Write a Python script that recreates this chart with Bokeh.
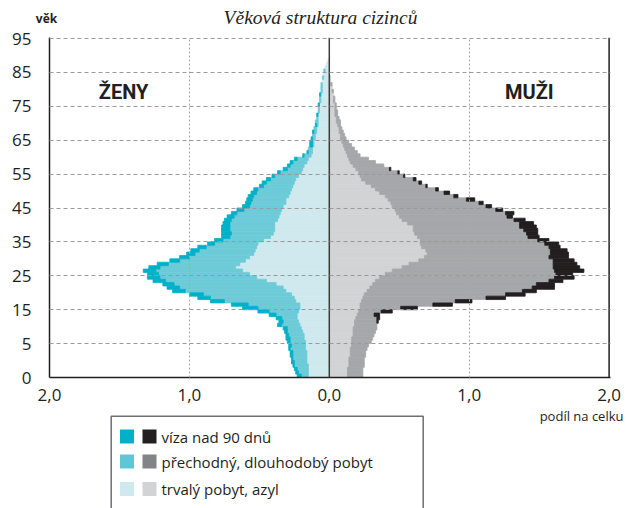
import numpy as np
from bokeh.plotting import figure
from bokeh.models import Range1d, FixedTicker, Span, ColumnDataSource
from bokeh.layouts import column
from bokeh.embed import file_html
from bokeh.resources import INLINE
from bokeh.core.properties import value

# single-year age rows (bottom row = 0)
ages = list(range(94))

# women: share of total (per cent points), by residence type
f_visa = [
    0.03, 0.02, 0.02, 0.01, 0.02, 0.01, 0.02, 0.02, 0.01, 0.02,
    0.02, 0.03, 0.02, 0.02, 0.03, 0.03, 0.03, 0.04, 0.05, 0.08,
    0.11, 0.12, 0.10, 0.09, 0.10, 0.09, 0.09, 0.08, 0.09, 0.09,
    0.08, 0.09, 0.08, 0.08, 0.07, 0.07, 0.06, 0.06, 0.06, 0.05,
    0.06, 0.06, 0.07, 0.06, 0.06, 0.05, 0.05, 0.05, 0.04, 0.05,
    0.05, 0.04, 0.04, 0.04, 0.04, 0.03, 0.03, 0.03, 0.03, 0.02,
    0.02, 0.03, 0.02, 0.02, 0.02, 0.01, 0.01, 0.00, 0.02, 0.02,
    0.01, 0.00, 0.01, 0.00, 0.01, 0.00, 0.00, 0.01, 0.00, 0.00,
    0.01, 0.00, 0.00, 0.01, 0.00, 0.00, 0.00, 0.00, 0.00, 0.00,
    0.00, 0.00, 0.00, 0.00]
f_temp = [
    0.05, 0.07, 0.08, 0.10, 0.09, 0.10, 0.10, 0.10, 0.11, 0.10,
    0.11, 0.10, 0.11, 0.11, 0.10, 0.13, 0.11, 0.11, 0.15, 0.21,
    0.30, 0.37, 0.51, 0.60, 0.63, 0.72, 0.74, 0.73, 0.72, 0.69,
    0.65, 0.62, 0.54, 0.51, 0.47, 0.43, 0.42, 0.40, 0.36, 0.31,
    0.29, 0.29, 0.30, 0.32, 0.32, 0.32, 0.33, 0.32, 0.31, 0.27,
    0.24, 0.25, 0.24, 0.25, 0.24, 0.24, 0.21, 0.20, 0.18, 0.17,
    0.15, 0.11, 0.10, 0.10, 0.08, 0.05, 0.03, 0.03, 0.01, 0.01,
    0.02, 0.02, 0.02, 0.02, 0.01, 0.02, 0.01, 0.00, 0.01, 0.01,
    0.00, 0.01, 0.01, 0.00, 0.01, 0.01, 0.01, 0.00, 0.01, 0.00,
    0.01, 0.00, 0.00, 0.00]
f_perm = [
    0.15, 0.15, 0.15, 0.15, 0.16, 0.16, 0.16, 0.16, 0.17, 0.17,
    0.17, 0.18, 0.18, 0.19, 0.20, 0.21, 0.22, 0.23, 0.23, 0.22,
    0.21, 0.21, 0.24, 0.25, 0.27, 0.31, 0.33, 0.38, 0.45, 0.52,
    0.57, 0.62, 0.67, 0.64, 0.60, 0.57, 0.54, 0.53, 0.52, 0.51,
    0.47, 0.42, 0.40, 0.39, 0.39, 0.39, 0.37, 0.36, 0.35, 0.34,
    0.33, 0.31, 0.31, 0.29, 0.28, 0.27, 0.26, 0.25, 0.24, 0.22,
    0.20, 0.19, 0.18, 0.16, 0.15, 0.13, 0.12, 0.12, 0.11, 0.11,
    0.10, 0.10, 0.09, 0.09, 0.08, 0.08, 0.08, 0.08, 0.07, 0.07,
    0.07, 0.06, 0.06, 0.06, 0.05, 0.05, 0.05, 0.05, 0.04, 0.04,
    0.03, 0.03, 0.02, 0.01]

# men
m_visa = [
    0.00, 0.00, 0.00, 0.00, 0.00, 0.00, 0.00, 0.00, 0.00, 0.00,
    0.00, 0.00, 0.00, 0.00, 0.00, 0.00, 0.01, 0.02, 0.04, 0.08,
    0.12, 0.14, 0.12, 0.14, 0.14, 0.10, 0.16, 0.13, 0.10, 0.14,
    0.12, 0.21, 0.19, 0.17, 0.15, 0.14, 0.13, 0.12, 0.08, 0.10,
    0.08, 0.08, 0.08, 0.10, 0.12, 0.10, 0.08, 0.04, 0.06, 0.05,
    0.04, 0.03, 0.06, 0.03, 0.04, 0.02, 0.01, 0.02, 0.02, 0.01,
    0.01, 0.01, 0.00, 0.00, 0.00, 0.00, 0.00, 0.00, 0.00, 0.00,
    0.00, 0.00, 0.00, 0.00, 0.00, 0.00, 0.00, 0.00, 0.00, 0.00,
    0.00, 0.00, 0.00, 0.00, 0.00, 0.00, 0.00, 0.00, 0.00, 0.00,
    0.00, 0.00, 0.00, 0.00]
m_temp = [
    0.11, 0.11, 0.11, 0.11, 0.11, 0.11, 0.11, 0.11, 0.12, 0.12,
    0.14, 0.15, 0.15, 0.16, 0.17, 0.16, 0.16, 0.15, 0.12, 0.16,
    0.29, 0.52, 0.67, 0.88, 1.01, 1.11, 1.16, 1.17, 1.24, 1.25,
    1.22, 1.16, 1.08, 1.03, 0.96, 0.89, 0.88, 0.89, 0.91, 0.89,
    0.84, 0.79, 0.80, 0.79, 0.76, 0.80, 0.80, 0.77, 0.78, 0.72,
    0.67, 0.63, 0.56, 0.49, 0.46, 0.43, 0.39, 0.38, 0.37, 0.31,
    0.28, 0.24, 0.22, 0.18, 0.14, 0.09, 0.08, 0.07, 0.06, 0.05,
    0.04, 0.03, 0.03, 0.02, 0.02, 0.03, 0.02, 0.02, 0.02, 0.01,
    0.01, 0.01, 0.01, 0.00, 0.01, 0.00, 0.01, 0.00, 0.00, 0.00,
    0.00, 0.00, 0.00, 0.00]
m_perm = [
    0.13, 0.13, 0.13, 0.14, 0.14, 0.14, 0.15, 0.15, 0.15, 0.16,
    0.16, 0.16, 0.17, 0.17, 0.17, 0.18, 0.18, 0.19, 0.20, 0.21,
    0.22, 0.22, 0.23, 0.24, 0.25, 0.27, 0.29, 0.31, 0.33, 0.36,
    0.40, 0.45, 0.52, 0.57, 0.64, 0.68, 0.70, 0.69, 0.66, 0.65,
    0.65, 0.63, 0.61, 0.60, 0.60, 0.56, 0.52, 0.50, 0.48, 0.47,
    0.45, 0.44, 0.42, 0.40, 0.36, 0.33, 0.30, 0.26, 0.23, 0.22,
    0.21, 0.19, 0.17, 0.15, 0.14, 0.13, 0.12, 0.11, 0.10, 0.09,
    0.08, 0.08, 0.07, 0.07, 0.06, 0.05, 0.05, 0.04, 0.04, 0.04,
    0.04, 0.03, 0.03, 0.03, 0.02, 0.02, 0.01, 0.01, 0.01, 0.00,
    0.00, 0.00, 0.00, 0.00]

# axis tick labels
y_ticks = [0, 10, 20, 30, 40, 50, 60, 70, 80, 90, 100]
y_tick_labels = ["0", "5", "15", "25", "35", "45", "55", "65", "75", "85", "95"]
x_ticks = [-2, -1, 0, 1, 2]
x_tick_labels = ["2,0", "1,0", "0,0", "1,0", "2,0"]

legend_labels = ["víza nad 90 dnů", "přechodný, dlouhodobý pobyt", "trvalý pobyt, azyl"]

F_COL = {"visa": "#00b1c9", "temp": "#6dcbd8", "perm": "#cfe9ee"}
M_COL = {"visa": "#231f20", "temp": "#a6a7aa", "perm": "#d2d3d5"}
LEG_F = ["#00b1c9", "#5ec7d5", "#cfe9ee"]
LEG_M = ["#231f20", "#838487", "#d2d3d5"]
INK = "#231f20"
FONT = "Open Sans"
W = 626


def strip(height):
    f = figure(width=W, height=height, x_range=Range1d(0, W), y_range=Range1d(height, 0),
               output_backend="svg", toolbar_location=None,
               x_axis_location=None, y_axis_location=None,
               min_border=0, min_border_left=0, min_border_right=0,
               min_border_top=0, min_border_bottom=0, frame_align=False)
    f.outline_line_color = None
    f.grid.visible = False
    return f


# header strip: title + y-axis caption
h = strip(27)
h.text(x=[320], y=[17], text=["Věková struktura cizinců"],
       text_font=value("Liberation Serif"), text_font_style="italic",
       text_font_size="19.5px", text_align="center", text_baseline="middle",
       text_color=INK)
h.text(x=[46], y=[18], text=["věk"], text_font=value(FONT), text_font_style="bold",
       text_font_size="12px", text_align="center", text_baseline="middle",
       text_color=INK)

# main pyramid
p = figure(width=W, height=379,
           x_range=Range1d(-2, 2.01), y_range=Range1d(0, 100.3),
           output_backend="svg", toolbar_location=None, frame_align=False,
           min_border_left=49, min_border_right=16,
           min_border_top=10, min_border_bottom=29)
p.outline_line_color = None
p.background_fill_color = "white"

y = np.array(ages) + 0.5


def add_bars(sign, inner, width, color):
    inner = np.array(inner)
    width = np.array(width)
    mask = width > 0
    a = sign * inner[mask]
    b = sign * (inner[mask] + width[mask])
    src = ColumnDataSource(dict(y=y[mask], left=np.minimum(a, b), right=np.maximum(a, b)))
    p.hbar(y="y", height=1, left="left", right="right", source=src,
           fill_color=color, line_color=color, line_width=0.8)


fp, ft, fv = np.array(f_perm), np.array(f_temp), np.array(f_visa)
mp, mt, mv = np.array(m_perm), np.array(m_temp), np.array(m_visa)

add_bars(-1, np.zeros(len(ages)), fp, F_COL["perm"])
add_bars(-1, fp, ft, F_COL["temp"])
add_bars(-1, fp + ft, fv, F_COL["visa"])
add_bars(1, np.zeros(len(ages)), mp, M_COL["perm"])
add_bars(1, mp, mt, M_COL["temp"])
add_bars(1, mp + mt, mv, M_COL["visa"])

# axes
p.yaxis.ticker = FixedTicker(ticks=y_ticks)
p.yaxis.major_label_overrides = {t: l for t, l in zip(y_ticks, y_tick_labels)}
p.xaxis.ticker = FixedTicker(ticks=x_ticks)
p.xaxis.major_label_overrides = {t: l for t, l in zip(x_ticks, x_tick_labels)}
for ax in (p.xaxis, p.yaxis):
    ax.major_tick_line_color = None
    ax.minor_tick_line_color = None
    ax.axis_line_color = INK
    ax.axis_line_width = 1.5
    ax.major_label_text_font = FONT
    ax.major_label_text_font_size = "17px"
    ax.major_label_text_color = INK
p.yaxis.major_label_standoff = 12
p.xaxis.major_label_standoff = 5

# grid (dashed, drawn over the bars)
p.ygrid.ticker = FixedTicker(ticks=y_ticks[1:])
p.ygrid.grid_line_color = "#9a9a9a"
p.ygrid.grid_line_dash = "4 3"
p.ygrid.grid_line_width = 1
p.ygrid.level = "overlay"
p.xgrid.ticker = FixedTicker(ticks=[-1, 1])
p.xgrid.grid_line_color = "#a8a8a8"
p.xgrid.grid_line_dash = "2 2"
p.xgrid.grid_line_width = 1
p.xgrid.level = "overlay"

p.add_layout(Span(location=0, dimension="height", line_color="#3c3c3c", line_width=1.5))
p.add_layout(Span(location=2, dimension="height", line_color=INK, line_width=1.5))

p.text(x=[-1.47, 1.43], y=[84.1, 84.1], text=["ŽENY", "MUŽI"],
       text_font=value("Roboto"), text_font_style="bold", text_font_size="20px",
       text_align="center", text_baseline="middle", text_color=INK)

# legend panel
q = strip(102)
q.quad(left=[110.7], right=[422.7], top=[9.7], bottom=[130],
       fill_color=None, line_color="#6d6e71", line_width=1.5)
rows = [30, 55, 82.5]
q.rect(x=[126.5] * 3, y=rows, width=14, height=14, fill_color=LEG_F, line_color=None)
q.rect(x=[149] * 3, y=rows, width=14, height=14, fill_color=LEG_M, line_color=None)
q.text(x=[161] * 3, y=rows, text=legend_labels, text_font=value(FONT),
       text_font_size="15px", text_baseline="middle", text_align="left", text_color=INK)
q.text(x=[623], y=[9], text=["podíl na celku"], text_font=value(FONT),
       text_font_size="13px", text_baseline="middle", text_align="right", text_color=INK)

layout = column(h, p, q)
open("out.html", "w").write(file_html(layout, INLINE))
